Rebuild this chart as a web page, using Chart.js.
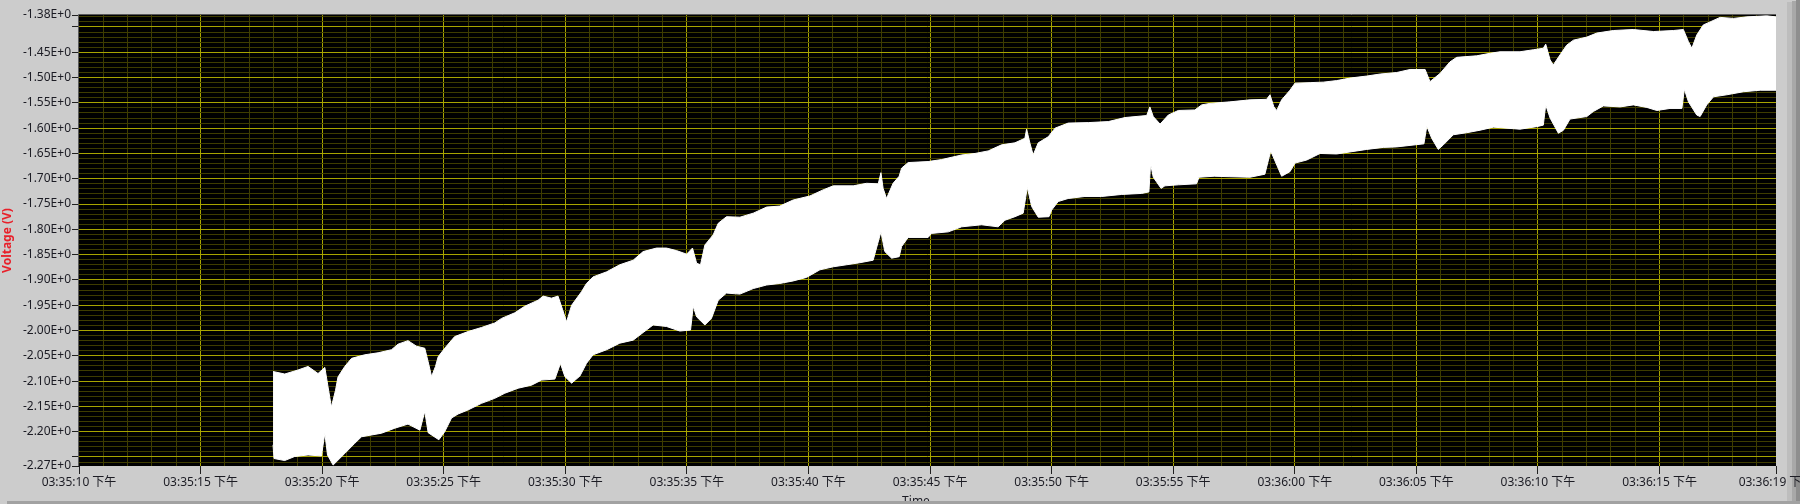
<!DOCTYPE html>
<html>
<head>
<meta charset="utf-8">
<script src="https://cdn.jsdelivr.net/npm/chart.js@4/dist/chart.umd.min.js"></script>
<style>
html,body{margin:0;padding:0;background:#cccccc;overflow:hidden;}
canvas{display:block;}
</style>
</head>
<body>
<canvas id="c" width="1800" height="504"></canvas>
<script>
// ---- data (time in seconds after 03:35:10 PM, voltage in V) ----
const timeUpper = [7.98,8.46,9.01,9.42,9.83,10.11,10.24,10.38,10.55,10.65,
10.93,11.21,11.75,12.30,12.85,13.12,13.53,13.88,14.22,14.36,
14.50,14.66,14.77,15.04,15.45,16.00,16.55,17.10,17.38,17.92,
18.33,18.88,19.09,19.43,19.70,19.89,20.05,20.26,20.67,20.87,
21.14,21.70,22.24,22.79,23.20,23.75,24.16,24.57,24.99,25.23,
25.40,25.56,25.74,26.08,26.29,26.63,27.18,27.73,28.28,28.82,
29.37,30.06,30.60,31.02,31.84,32.39,32.87,32.98,33.07,33.21,
33.48,33.73,33.83,34.10,34.92,35.48,36.30,36.85,37.39,37.94,
38.49,38.90,38.97,39.11,39.24,39.45,39.86,40.14,40.68,41.51,
42.33,43.02,43.91,44.04,44.18,44.46,44.80,45.21,45.89,46.17,
46.51,47.33,48.16,48.84,48.98,49.14,49.26,49.46,49.80,50.01,
50.63,51.17,51.72,52.27,52.96,53.51,54.19,54.74,55.36,55.56,
55.97,56.38,56.66,57.48,58.03,58.44,59.26,59.81,60.22,60.32,
60.50,60.63,60.91,61.18,61.46,62.01,62.42,63.10,63.92,64.75,
65.57,65.98,66.19,66.33,66.53,66.80,67.08,67.49,68.04,68.59,
69.41,69.79];
const voltUpper = [-2.081,-2.086,-2.078,-2.071,-2.085,-2.073,-2.111,-2.151,-2.118,-2.092,
-2.071,-2.055,-2.048,-2.044,-2.038,-2.027,-2.020,-2.031,-2.035,-2.062,
-2.091,-2.071,-2.052,-2.035,-2.012,-2.002,-1.994,-1.985,-1.976,-1.965,
-1.952,-1.940,-1.932,-1.936,-1.932,-1.959,-1.983,-1.950,-1.923,-1.907,
-1.894,-1.884,-1.870,-1.861,-1.844,-1.837,-1.837,-1.842,-1.849,-1.837,
-1.867,-1.870,-1.831,-1.811,-1.788,-1.775,-1.776,-1.768,-1.756,-1.754,
-1.742,-1.734,-1.722,-1.714,-1.714,-1.709,-1.710,-1.688,-1.719,-1.739,
-1.709,-1.695,-1.679,-1.668,-1.666,-1.662,-1.653,-1.650,-1.645,-1.633,
-1.629,-1.620,-1.602,-1.630,-1.653,-1.629,-1.617,-1.600,-1.590,-1.589,
-1.587,-1.579,-1.575,-1.558,-1.577,-1.592,-1.574,-1.565,-1.564,-1.554,
-1.551,-1.548,-1.544,-1.543,-1.534,-1.558,-1.565,-1.544,-1.525,-1.511,
-1.510,-1.509,-1.506,-1.501,-1.497,-1.493,-1.490,-1.484,-1.484,-1.508,
-1.492,-1.469,-1.460,-1.457,-1.452,-1.449,-1.449,-1.445,-1.442,-1.434,
-1.465,-1.475,-1.455,-1.436,-1.426,-1.420,-1.412,-1.407,-1.405,-1.409,
-1.407,-1.405,-1.429,-1.442,-1.416,-1.396,-1.390,-1.381,-1.383,-1.380,
-1.378,-1.380];
const timeLower = [7.98,8.02,8.46,8.87,9.42,9.97,10.11,10.22,10.45,10.93,
11.34,11.62,12.44,12.99,13.53,14.02,14.22,14.36,14.80,15.04,
15.32,15.59,16.00,16.55,17.10,17.51,18.06,18.61,19.02,19.57,
19.80,19.98,20.26,20.60,20.87,21.14,21.70,22.24,22.79,23.20,
23.61,24.16,24.71,25.15,25.26,25.40,25.74,26.01,26.29,26.63,
27.18,27.73,28.28,28.82,29.37,29.92,30.47,31.02,31.57,32.11,
32.66,32.98,33.14,33.42,33.73,33.83,34.10,34.92,35.06,35.75,
36.30,37.12,37.80,38.08,38.49,38.83,39.00,39.18,39.45,39.89,
40.00,40.27,40.68,41.37,42.06,42.88,43.70,44.00,44.07,44.18,
44.50,44.66,45.21,45.96,46.06,46.69,47.33,48.16,48.77,49.01,
49.26,49.46,49.80,50.01,50.49,51.04,51.72,52.27,52.96,53.64,
54.19,55.31,55.43,55.63,55.90,56.11,56.52,57.07,57.62,58.17,
59.26,59.95,60.22,60.32,60.50,60.84,61.05,61.32,62.01,62.28,
62.69,63.38,63.92,64.48,64.89,65.43,65.92,66.02,66.19,66.53,
66.67,66.94,67.22,67.77,68.45,69.14,69.79];
const voltLower = [-2.226,-2.253,-2.257,-2.249,-2.246,-2.248,-2.203,-2.246,-2.266,-2.243,
-2.223,-2.210,-2.203,-2.193,-2.185,-2.197,-2.160,-2.202,-2.216,-2.200,
-2.173,-2.165,-2.157,-2.144,-2.134,-2.124,-2.114,-2.108,-2.098,-2.096,
-2.065,-2.091,-2.104,-2.090,-2.065,-2.048,-2.038,-2.025,-2.019,-2.004,
-1.989,-1.992,-2.001,-1.999,-1.952,-1.973,-1.989,-1.976,-1.940,-1.926,
-1.928,-1.917,-1.910,-1.907,-1.902,-1.895,-1.880,-1.874,-1.870,-1.866,
-1.861,-1.805,-1.844,-1.857,-1.854,-1.834,-1.816,-1.816,-1.808,-1.805,
-1.795,-1.791,-1.795,-1.782,-1.775,-1.768,-1.717,-1.755,-1.776,-1.775,
-1.762,-1.745,-1.739,-1.735,-1.735,-1.731,-1.729,-1.726,-1.671,-1.697,
-1.719,-1.714,-1.712,-1.710,-1.697,-1.695,-1.696,-1.697,-1.691,-1.645,
-1.673,-1.695,-1.686,-1.669,-1.663,-1.650,-1.651,-1.647,-1.642,-1.638,
-1.637,-1.631,-1.596,-1.620,-1.642,-1.633,-1.613,-1.609,-1.604,-1.598,
-1.602,-1.597,-1.594,-1.554,-1.580,-1.610,-1.604,-1.582,-1.577,-1.567,
-1.556,-1.558,-1.554,-1.559,-1.565,-1.561,-1.561,-1.523,-1.548,-1.574,
-1.577,-1.554,-1.538,-1.534,-1.528,-1.525,-1.525];

// axis ranges and tick settings
const X_MIN = 0, X_MAX = 69.79;          // seconds after start time
const START_TIME = [3, 35, 10];           // 03:35:10
const AM_PM = '下午';
const Y_MIN = -2.2678, Y_MAX = -1.3763;
const Y_END_LABELS = ['-2.27E+0', '-1.38E+0'];
const Y_HIDDEN_LABELS = [-1.40, -2.25];

const MAJOR = '#a8a400';
const MINOR = '#3e3c00';
const FONT = "'Noto Sans', 'Noto Sans CJK SC', sans-serif";
const TXT = '#1c1c24';

function pad(n){ return (n < 10 ? '0' : '') + n; }
function timeLabel(sec){
  let s = START_TIME[0]*3600 + START_TIME[1]*60 + START_TIME[2] + Math.floor(sec + 1e-6);
  const h = Math.floor(s/3600); s -= h*3600;
  const m = Math.floor(s/60); s -= m*60;
  return pad(h) + ':' + pad(m) + ':' + pad(s) + ' ' + AM_PM;
}
const isYMajor = v => Math.abs(v*20 - Math.round(v*20)) < 1e-6;
const isYEnd = v => v === Y_MIN || v === Y_MAX;
const isXMajor = v => Math.abs(v/5 - Math.round(v/5)) < 1e-6;
const isXEnd = v => v === X_MIN || v === X_MAX;

const frame = {
  id: 'frame',
  beforeDraw(c){
    const {ctx, chartArea: a, width, height} = c;
    ctx.save();
    ctx.fillStyle = '#cccccc'; ctx.fillRect(0, 0, width, height);
    ctx.fillStyle = '#bdbdbd'; ctx.fillRect(1787, 2, 5, height);
    ctx.fillStyle = '#a8a8a8'; ctx.fillRect(1792, 1, 4, height);
    ctx.fillStyle = '#8e8e8e'; ctx.fillRect(1796, 0, 4, height);
    ctx.fillStyle = '#000000'; ctx.fillRect(a.left, a.top, a.right - a.left, a.bottom - a.top);
    ctx.restore();
  },
  afterDraw(c){
    const {ctx, chartArea: a, width, height} = c;
    ctx.save();
    ctx.strokeStyle = '#5a5a5a'; ctx.lineWidth = 1;
    ctx.beginPath();
    ctx.moveTo(a.left - 0.5, a.bottom); ctx.lineTo(a.left - 0.5, a.top - 0.5); ctx.lineTo(a.right, a.top - 0.5);
    ctx.stroke();
    ctx.fillStyle = TXT; ctx.font = '12px ' + FONT;
    ctx.textAlign = 'center'; ctx.textBaseline = 'alphabetic';
    ctx.fillText('Time', 916, 505);
    ctx.fillStyle = '#a2a2a2'; ctx.fillRect(7, 501, width - 7, 3);
    ctx.restore();
  }
};

new Chart(document.getElementById('c'), {
  type: 'line',
  data: {
    datasets: [
      { label: 'upper', data: timeUpper.map((t,i) => ({x: t, y: voltUpper[i]})),
        borderColor: '#ffffff', borderWidth: 1, backgroundColor: '#ffffff',
        fill: '+1', pointRadius: 0, tension: 0 },
      { label: 'lower', data: timeLower.map((t,i) => ({x: t, y: voltLower[i]})),
        borderColor: '#ffffff', borderWidth: 1, backgroundColor: '#ffffff',
        fill: false, pointRadius: 0, tension: 0 }
    ]
  },
  options: {
    responsive: false, animation: false, devicePixelRatio: 1,
    layout: { padding: { top: 15, right: 24, left: 0, bottom: 0 } },
    plugins: { legend: { display: false }, tooltip: { enabled: false } },
    scales: {
      x: {
        type: 'linear', min: X_MIN, max: X_MAX,
        afterBuildTicks(s){
          const t = [];
          for (let i = 0; i <= 69; i++) t.push({value: i});
          t.push({value: X_MAX});
          s.ticks = t;
        },
        afterFit(s){ s.height = 38; s.paddingLeft = 0; s.paddingRight = 0; },
        ticks: {
          autoSkip: false, maxRotation: 0, minRotation: 0, padding: 1,
          color: TXT, font: { size: 12, family: FONT },
          callback: v => (isXMajor(v) || v === X_MAX) ? timeLabel(v) : ''
        },
        grid: {
          lineWidth: 1, tickLength: 8,
          color: ctx => { const v = ctx.tick ? ctx.tick.value : 1; return isXEnd(v) ? 'rgba(0,0,0,0)' : (isXMajor(v) ? MAJOR : MINOR); },
          tickColor: ctx => { const v = ctx.tick ? ctx.tick.value : 1; return (isXMajor(v) || v === X_MAX) ? '#202020' : 'rgba(0,0,0,0)'; }
        },
        border: { display: false }
      },
      y: {
        type: 'linear', min: Y_MIN, max: Y_MAX,
        afterBuildTicks(s){
          const t = [{value: Y_MIN}];
          for (let k = -226; k <= -138; k++) t.push({value: k/100});
          t.push({value: Y_MAX});
          s.ticks = t;
        },
        afterFit(s){ s.width = 79; s.paddingTop = 0; s.paddingBottom = 0; },
        ticks: {
          autoSkip: false, padding: 1, color: TXT, font: { size: 12, family: FONT },
          callback: v => {
            if (v === Y_MIN) return Y_END_LABELS[0];
            if (v === Y_MAX) return Y_END_LABELS[1];
            if (!isYMajor(v)) return '';
            if (Y_HIDDEN_LABELS.some(h => Math.abs(h - v) < 1e-6)) return '';
            return v.toFixed(2) + 'E+0';
          }
        },
        grid: {
          lineWidth: 1, tickLength: 7,
          color: ctx => { const v = ctx.tick ? ctx.tick.value : 0; return isYEnd(v) ? 'rgba(0,0,0,0)' : (isYMajor(v) ? MAJOR : MINOR); },
          tickColor: ctx => { const v = ctx.tick ? ctx.tick.value : 0; return (isYMajor(v) || isYEnd(v)) ? '#202020' : 'rgba(0,0,0,0)'; }
        },
        border: { display: false },
        title: { display: true, text: 'Voltage (V)', color: '#e8202a',
                 font: { size: 12, weight: 'bold', family: FONT }, padding: 0 }
      }
    }
  },
  plugins: [frame]
});
</script>
</body>
</html>
